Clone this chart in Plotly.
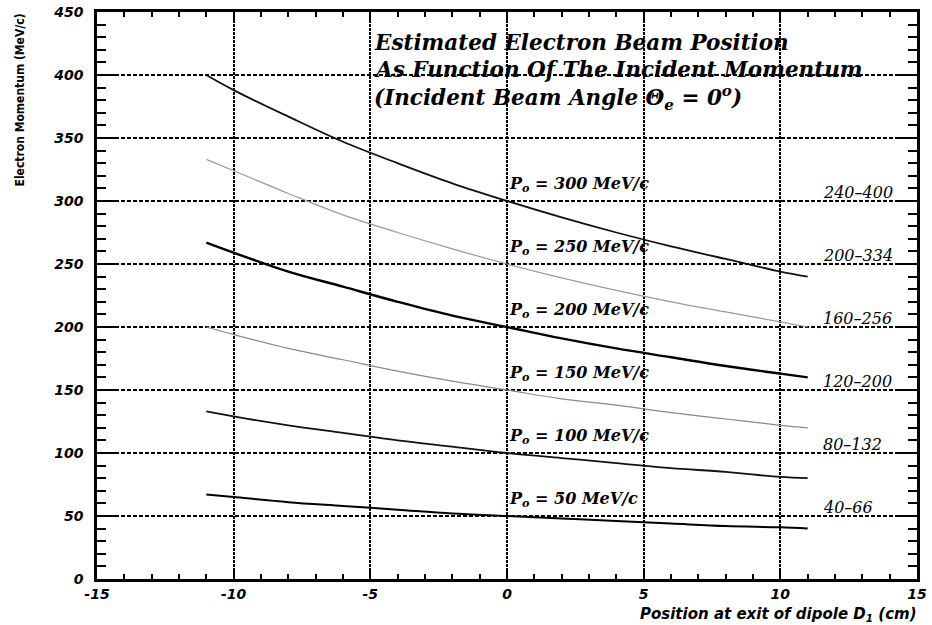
import plotly.graph_objects as go

# Position at exit of dipole D1 (cm)
x_pos = [-11, -10, -8, -6, -4, -2, 0, 2, 4, 6, 8, 10, 11]

# Electron momentum (MeV/c)
p300 = [400, 388, 367, 347, 330, 314, 300, 287, 275, 264, 254, 244, 240]
p250 = [333, 324, 306, 289, 275, 262, 250, 239, 229, 220, 212, 204, 200]
p200 = [267, 259, 244, 232, 220, 209, 200, 191, 183, 176, 169, 163, 160]
p150 = [200, 194, 183, 174, 165, 157, 150, 143, 138, 132, 127, 122, 120]
p100 = [133, 129, 122, 116, 110, 105, 100, 96, 92, 88, 85, 81, 80]
p050 = [67, 65, 61, 58, 55, 52, 50, 48, 46, 44, 42, 41, 40]

p0_values = [300, 250, 200, 150, 100, 50]
range_labels = ["240–400", "200–334", "160–256", "120–200", "80–132", "40–66"]

series = [p300, p250, p200, p150, p100, p050]
styles = [
    dict(color="#111111", width=1.8),
    dict(color="#9a9a9a", width=1.2),
    dict(color="#000000", width=2.4),
    dict(color="#8a8a8a", width=1.2),
    dict(color="#111111", width=1.8),
    dict(color="#000000", width=2.0),
]

fig = go.Figure()
for vals, st in zip(series, styles):
    fig.add_trace(go.Scatter(x=x_pos, y=vals, mode="lines",
                             line=dict(shape="spline", **st),
                             showlegend=False, hoverinfo="skip"))

serif_bi = dict(family="DejaVu Serif", color="black", weight="bold", style="italic")
serif_i = dict(family="DejaVu Serif", color="black", style="italic")
sans_bi = dict(family="DejaVu Sans", color="black", weight="bold", style="italic")

annotations = []
# Curve labels
for p0 in p0_values:
    annotations.append(dict(x=0, y=p0 + 13, xref="x", yref="y", xanchor="left", yanchor="middle",
                            text=f"P<sub>o</sub> = {p0} MeV/c", showarrow=False,
                            font=dict(size=16, **serif_bi)))
# Range labels
for p0, lab in zip(p0_values, range_labels):
    annotations.append(dict(x=11.5, y=p0, xref="x", yref="y", xanchor="left", yanchor="bottom",
                            text=lab, showarrow=False, yshift=-3,
                            font=dict(size=16, **serif_i)))
# Title lines
title_lines = ["Estimated Electron Beam Position",
               "As Function Of The Incident Momentum",
               "(Incident Beam Angle Θ<sub>e</sub> = 0<sup>o</sup>)"]
title_gap = [0, 21.6, 44.5]
for t, g in zip(title_lines, title_gap):
    annotations.append(dict(x=-5, y=426 - g, xref="x", yref="y", xanchor="left", yanchor="middle",
                            xshift=2, text=t, showarrow=False, font=dict(size=21.5, **serif_bi)))
# Axis titles
annotations.append(dict(x=1, y=0, xref="paper", yref="paper", xanchor="right", yanchor="top",
                        yshift=-24, xshift=2, text="Position at exit of dipole D<sub>1</sub> (cm)",
                        showarrow=False, font=dict(size=15, **sans_bi)))
annotations.append(dict(x=0, y=1, xref="paper", yref="paper", xanchor="center", yanchor="top",
                        xshift=-78, yshift=0, textangle=-90, text="Electron Momentum (MeV/c)",
                        showarrow=False,
                        font=dict(size=12, family="DejaVu Sans Condensed, DejaVu Sans",
                                  color="black", weight="bold")))

fig.update_layout(
    width=932, height=625,
    margin=dict(l=97, r=15, t=12, b=46),
    paper_bgcolor="white", plot_bgcolor="white",
    annotations=annotations,
)
fig.update_xaxes(
    range=[-15, 15], tickvals=[-15, -10, -5, 0, 5, 10, 15],
    ticktext=["-15", "-10", "-5", "0", "5", "10", "15"],
    showline=True, linewidth=2.5, linecolor="black", mirror="ticks",
    ticks="inside", ticklen=10, tickwidth=2, tickcolor="black",
    minor=dict(dtick=1, ticks="inside", ticklen=5, tickwidth=1.5, tickcolor="black", showgrid=False),
    showgrid=True, gridcolor="black", gridwidth=1.5, griddash="3px,1px",
    zeroline=False, tickfont=dict(size=14, **sans_bi), automargin=False,
)
fig.update_yaxes(
    range=[0, 450], dtick=50,
    showline=True, linewidth=2.5, linecolor="black", mirror="ticks",
    ticks="inside", ticklen=18, tickwidth=2, tickcolor="black",
    minor=dict(dtick=10, ticks="inside", ticklen=9, tickwidth=1.5, tickcolor="black", showgrid=False),
    showgrid=True, gridcolor="black", gridwidth=1.5, griddash="4px,2px",
    zeroline=False, tickfont=dict(size=14, **sans_bi), ticklabelstandoff=8, automargin=False,
)

fig.write_html("out.html", config={"displayModeBar": False},
               post_script="document.body.style.margin='0';document.body.style.overflow='hidden';")
